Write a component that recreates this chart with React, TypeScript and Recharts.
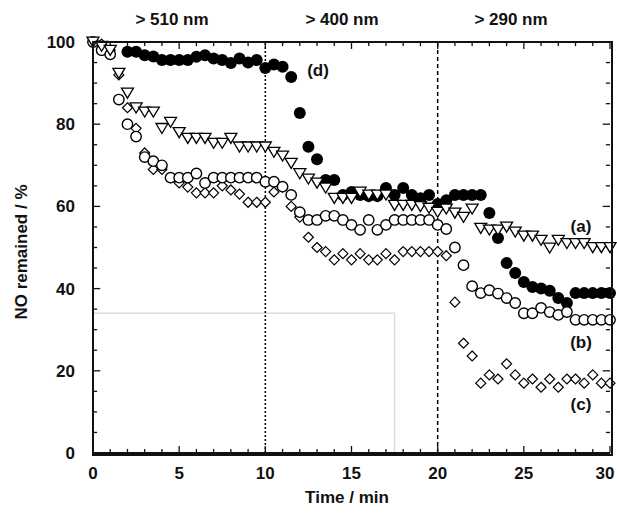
import React from "react";
import {
  ScatterChart,
  Scatter,
  XAxis,
  YAxis,
  ReferenceLine,
  ReferenceArea,
} from "recharts";

// time in minutes (every 0.5 min)
const timeMin = [
  0, 0.5, 1, 1.5, 2, 2.5, 3, 3.5, 4, 4.5, 5, 5.5, 6, 6.5, 7, 7.5, 8, 8.5, 9, 9.5,
  10, 10.5, 11, 11.5, 12, 12.5, 13, 13.5, 14, 14.5, 15, 15.5, 16, 16.5, 17, 17.5,
  18, 18.5, 19, 19.5, 20, 20.5, 21, 21.5, 22, 22.5, 23, 23.5, 24, 24.5, 25, 25.5,
  26, 26.5, 27, 27.5, 28, 28.5, 29, 29.5, 30,
];
// series (d) starts at 2 min
const timeD = timeMin.slice(4);

const seriesA = [
  100, 99, 98, 92.4, 87.6, 84, 83, 83, 79, 80.5, 78, 76.6, 76.6, 76.6, 75.4, 75.4,
  76.6, 74.5, 74.5, 74.5, 74.5, 73.2, 72.3, 70.5, 68, 66.7, 65.7, 64.5, 62, 62, 62,
  63.5, 62.8, 62.8, 62.8, 60.3, 60.3, 60.3, 60, 59.6, 58.6, 59.4, 58.4, 57.4, 59.4,
  54.7, 54.3, 54.3, 55, 53.8, 52.8, 52.8, 51.8, 49.9, 51.8, 51, 51, 51, 50, 50, 50,
];
const seriesB = [
  100, 98, 97, 86, 80, 77, 72, 71, 70, 67, 67, 67, 68, 65.7, 67, 67, 67, 67, 67, 67,
  66, 66, 64.8, 62.8, 58.6, 56.7, 56.7, 57.7, 57.7, 56.7, 55.5, 54.3, 56.7, 54.3,
  55.5, 56.7, 56.7, 56.7, 56.7, 56.7, 55.5, 54.5, 50, 45.7, 40.6, 38.9, 39.6, 38.8,
  37.7, 36.5, 34, 34, 35.3, 34.3, 33.6, 34.3, 32.4, 32.4, 32.4, 32.4, 32.4,
];
const seriesC = [
  100, 99.5, 98, 92, 84, 79, 73, 69, 69, 67, 65.7, 64.7, 63.3, 63.3, 63.3, 65, 64,
  63, 61, 61, 61, 63.5, 64.7, 60, 57.4, 52.5, 50, 49, 47, 48.5, 47, 48.5, 47, 47,
  48.5, 47, 49, 49, 49, 49, 49, 48, 36.7, 26.7, 23.6, 17, 19, 18, 21.7, 19, 17, 18,
  16, 18, 16, 18, 18, 17, 19, 17, 17,
];
const seriesD = [
  97.6, 97.6, 96.8, 96.5, 95.6, 95.6, 95.6, 95.6, 96.4, 96.8, 96, 95.6, 94.9, 96,
  95, 95.6, 93.7, 94.5, 94, 91.5, 82.7, 74.5, 71.5, 66.4, 66.4, 62.8, 63.5, 62.8,
  62.5, 62.5, 64.5, 62.8, 64.5, 62.8, 62, 62.8, 60.6, 61.5, 62.8, 62.8, 62.8, 62.8,
  58.4, 52.3, 46.2, 43.8, 41.6, 40.4, 40, 39.5, 37.7, 36.5, 38.9, 38.9, 38.9, 38.9,
  38.9,
];

const xTicks = [
  0, 1, 2, 3, 4, 5, 6, 7, 8, 9, 10, 11, 12, 13, 14, 15, 16, 17, 18, 19, 20, 21, 22,
  23, 24, 25, 26, 27, 28, 29, 30,
];
const xLabelTicks = [0, 5, 10, 15, 20, 25, 30];
const yTicks = [0, 5, 10, 15, 20, 25, 30, 35, 40, 45, 50, 55, 60, 65, 70, 75, 80, 85, 90, 95, 100];
const yLabelTicks = [0, 20, 40, 60, 80, 100];
const filterLabels = ["> 510 nm", "> 400 nm", "> 290 nm"];

const toPoints = (t: number[], v: number[]) => t.map((x, i) => ({ x, y: v[i] }));

const FONT = "'Liberation Sans', Arial, sans-serif";
const INK = "#111";

// chart box
const W = 617;
const H = 514;
const PLOT_LEFT = 93;
const PLOT_TOP = 42;
const PLOT_RIGHT_MARGIN = 7;
const X_AXIS_H = 61;

const BottomTick = (props: any) => {
  const { x, y, payload } = props;
  const v = payload.value;
  return (
    <text
      x={v === 30 ? x - 5 : x}
      y={y + 26}
      textAnchor="middle"
      fontFamily={FONT}
      fontWeight="bold"
      fontSize={17}
      fill={INK}
    >
      {v}
    </text>
  );
};

const LeftTick = (props: any) => {
  const { x, y, payload } = props;
  return (
    <text x={x - 18} y={y + 6} textAnchor="end" fontFamily={FONT} fontWeight="bold" fontSize={17} fill={INK}>
      {payload.value}
    </text>
  );
};

const TriangleDown = (props: any) => {
  const { cx, cy } = props;
  return (
    <polygon
      points={`${cx - 6},${cy - 4.8} ${cx + 6},${cy - 4.8} ${cx},${cy + 5.2}`}
      fill="#fff"
      stroke="#000"
      strokeWidth={1.3}
    />
  );
};

const OpenCircle = (props: any) => {
  const { cx, cy } = props;
  return <circle cx={cx} cy={cy} r={5.2} fill="#fff" stroke="#000" strokeWidth={1.4} />;
};

const Diamond = (props: any) => {
  const { cx, cy } = props;
  return (
    <polygon
      points={`${cx},${cy - 5} ${cx + 5},${cy} ${cx},${cy + 5} ${cx - 5},${cy}`}
      fill="#fff"
      stroke="#000"
      strokeWidth={1.2}
    />
  );
};

const FilledCircle = (props: any) => {
  const { cx, cy } = props;
  return <circle cx={cx} cy={cy} r={6} fill="#000" />;
};

const labelStyle = (left: number, top: number): React.CSSProperties => ({
  position: "absolute",
  left,
  top,
  transform: "translate(-50%, -50%)",
  fontFamily: FONT,
  fontWeight: "bold",
  fontSize: 17,
  color: INK,
  whiteSpace: "nowrap",
  lineHeight: 1,
  pointerEvents: "none",
});

// inside tick lengths in data units (~7px major, ~4px minor)
const xTickLen = (t: number) => (t % 5 === 0 ? 1.7 : 1.0);
const yTickLen = (v: number) => (v % 20 === 0 ? 0.42 : 0.24);

export default function App() {
  const plotW = W - PLOT_LEFT - PLOT_RIGHT_MARGIN;
  const plotH = H - PLOT_TOP - X_AXIS_H;
  return (
    <div style={{ position: "absolute", left: 0, top: 0, width: W, height: H, background: "#fff" }}>
      <ScatterChart
        width={W}
        height={H}
        margin={{ top: PLOT_TOP, right: PLOT_RIGHT_MARGIN, bottom: 0, left: 0 }}
      >
        <XAxis
          type="number"
          dataKey="x"
          domain={[0, 30]}
          ticks={xLabelTicks}
          interval={0}
          height={X_AXIS_H}
          tickSize={0}
          tickMargin={0}
          tick={<BottomTick />}
          axisLine={{ stroke: INK, strokeWidth: 2 }}
          tickLine={false}
        />
        <YAxis
          type="number"
          dataKey="y"
          domain={[0, 100]}
          ticks={yLabelTicks}
          interval={0}
          width={PLOT_LEFT}
          tickSize={0}
          tickMargin={0}
          tick={<LeftTick />}
          axisLine={{ stroke: INK, strokeWidth: 2 }}
          tickLine={false}
        />
        <ReferenceArea x1={0} x2={17.5} y1={0} y2={34} fill="none" stroke="#dcdcdc" strokeWidth={1.5} />
        <ReferenceLine x={10} stroke="#000" strokeWidth={1.5} strokeDasharray="2 2" />
        <ReferenceLine x={20} stroke="#000" strokeWidth={1.5} strokeDasharray="4 3" />
        {xTicks.map((t) => (
          <ReferenceLine
            key={`xb-${t}`}
            segment={[{ x: t, y: 0 }, { x: t, y: xTickLen(t) }]}
            stroke={INK}
            strokeWidth={1.3}
          />
        ))}
        {xTicks.map((t) => (
          <ReferenceLine
            key={`xt-${t}`}
            segment={[{ x: t, y: 100 }, { x: t, y: 100 - xTickLen(t) }]}
            stroke={INK}
            strokeWidth={1.3}
          />
        ))}
        {yTicks.map((v) => (
          <ReferenceLine
            key={`yl-${v}`}
            segment={[{ x: 0, y: v }, { x: yTickLen(v), y: v }]}
            stroke={INK}
            strokeWidth={1.3}
          />
        ))}
        {yTicks.map((v) => (
          <ReferenceLine
            key={`yr-${v}`}
            segment={[{ x: 30, y: v }, { x: 30 - yTickLen(v), y: v }]}
            stroke={INK}
            strokeWidth={1.3}
          />
        ))}
        <Scatter name="(d)" data={toPoints(timeD, seriesD)} shape={<FilledCircle />} isAnimationActive={false} />
        <Scatter name="(c)" data={toPoints(timeMin, seriesC)} shape={<Diamond />} isAnimationActive={false} />
        <Scatter name="(b)" data={toPoints(timeMin, seriesB)} shape={<OpenCircle />} isAnimationActive={false} />
        <Scatter name="(a)" data={toPoints(timeMin, seriesA)} shape={<TriangleDown />} isAnimationActive={false} />
      </ScatterChart>
      {/* plot frame, drawn from the same box constants the chart uses */}
      <div
        style={{
          position: "absolute",
          left: PLOT_LEFT - 1,
          top: PLOT_TOP - 1,
          width: plotW,
          height: plotH,
          border: `2px solid ${INK}`,
          pointerEvents: "none",
        }}
      />
      <div style={labelStyle(172, 19)}>{filterLabels[0]}</div>
      <div style={labelStyle(342, 19)}>{filterLabels[1]}</div>
      <div style={labelStyle(511, 19)}>{filterLabels[2]}</div>
      <div style={labelStyle(318, 70)}>(d)</div>
      <div style={labelStyle(581, 226)}>(a)</div>
      <div style={labelStyle(581, 342)}>(b)</div>
      <div style={labelStyle(581, 404)}>(c)</div>
      <div style={labelStyle(347, 497)}>Time / min</div>
      <div style={{ ...labelStyle(21, 252), transform: "translate(-50%, -50%) rotate(-90deg)" }}>
        NO remained / %
      </div>
    </div>
  );
}
